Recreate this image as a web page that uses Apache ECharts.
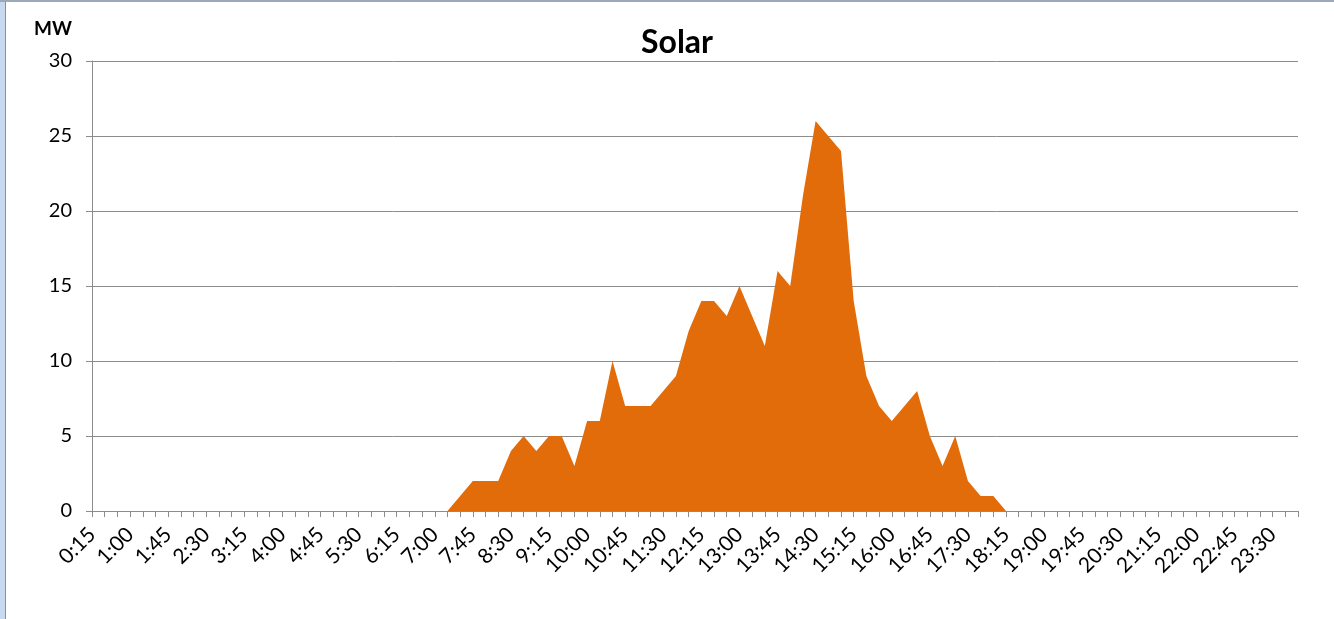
<!DOCTYPE html>
<html>
<head>
<meta charset="utf-8">
<script src="https://cdn.jsdelivr.net/npm/echarts@6/dist/echarts.min.js"></script>
<style>
html,body{margin:0;padding:0;background:#fff;}
#chart{width:1334px;height:619px;}
</style>
</head>
<body>
<div id="chart"></div>
<script>
// Categories: 0:15 .. 24:00 every 15 minutes
const categories = [];
for (let m = 15; m <= 24 * 60; m += 15) {
  categories.push(Math.floor(m / 60) + ':' + String(m % 60).padStart(2, '0'));
}
// Solar output (MW)
const solarMW = [
  0,0,0,0,0,0,0,0,0,0, 0,0,0,0,0,0,0,0,0,0,   // 0:15 - 5:00
  0,0,0,0,0,0,0,0,0,1, 2,2,2,4,5,4,5,5,3,6,   // 5:15 - 10:00
  6,10,7,7,7,8,9,12,14,14, 13,15,13,11,16,15,21,26,25,24, // 10:15 - 15:00
  14,9,7,6,7,8,5,3,5,2, 1,1,0,0,0,0,0,0,0,0,  // 15:15 - 20:00
  0,0,0,0,0,0,0,0,0,0, 0,0,0,0,0,0            // 20:15 - 24:00
];
const yTicks = [0, 5, 10, 15, 20, 25, 30];

const chart = echarts.init(document.getElementById('chart'), null, {renderer: 'canvas'});
const FONT = 'Lato, "Open Sans", sans-serif';
chart.setOption({
  animation: false,
  title: {
    text: 'Solar', left: 672, top: 22, textAlign: 'center',
    textStyle: {fontFamily: FONT, fontSize: 32, fontWeight: 'bold', color: '#000'}
  },
  graphic: [
    {type: 'rect', shape: {x: 0, y: 0, width: 5, height: 619}, style: {fill: '#c6d9f0'}},
    {type: 'rect', shape: {x: 5, y: 0, width: 1, height: 619}, style: {fill: '#8e8e8e'}},
    {type: 'rect', shape: {x: 0, y: 0, width: 1334, height: 2}, style: {fill: '#9aa8b8'}},
    {type: 'text', left: 34, top: 19, style: {text: 'MW', font: 'bold 19px ' + FONT, fill: '#000'}}
  ],
  grid: {left: 92, right: 36, top: 61, bottom: 108, containLabel: false},
  xAxis: {
    type: 'category',
    data: categories,
    boundaryGap: false,
    axisLine: {lineStyle: {color: '#8c8c8c', width: 1}},
    axisTick: {show: true, interval: 0, length: 6, lineStyle: {color: '#8c8c8c'}},
    axisLabel: {
      interval: 2, rotate: 45, fontFamily: FONT, fontSize: 21, color: '#000', margin: 20
    },
    splitLine: {show: false}
  },
  yAxis: {
    type: 'value', min: 0, max: 30, interval: 5,
    axisLine: {show: true, lineStyle: {color: '#8c8c8c'}},
    axisTick: {show: true, length: 6, lineStyle: {color: '#8c8c8c'}},
    axisLabel: {fontFamily: FONT, fontSize: 20, color: '#000', margin: 20,
      formatter: v => yTicks.includes(v) ? String(v) : ''},
    splitLine: {lineStyle: {color: '#8c8c8c', width: 1}}
  },
  series: [{
    type: 'line',
    data: solarMW,
    symbol: 'none',
    lineStyle: {width: 0},
    areaStyle: {color: '#e36c0a', opacity: 1},
    itemStyle: {color: '#e36c0a'}
  }]
});
</script>
</body>
</html>
